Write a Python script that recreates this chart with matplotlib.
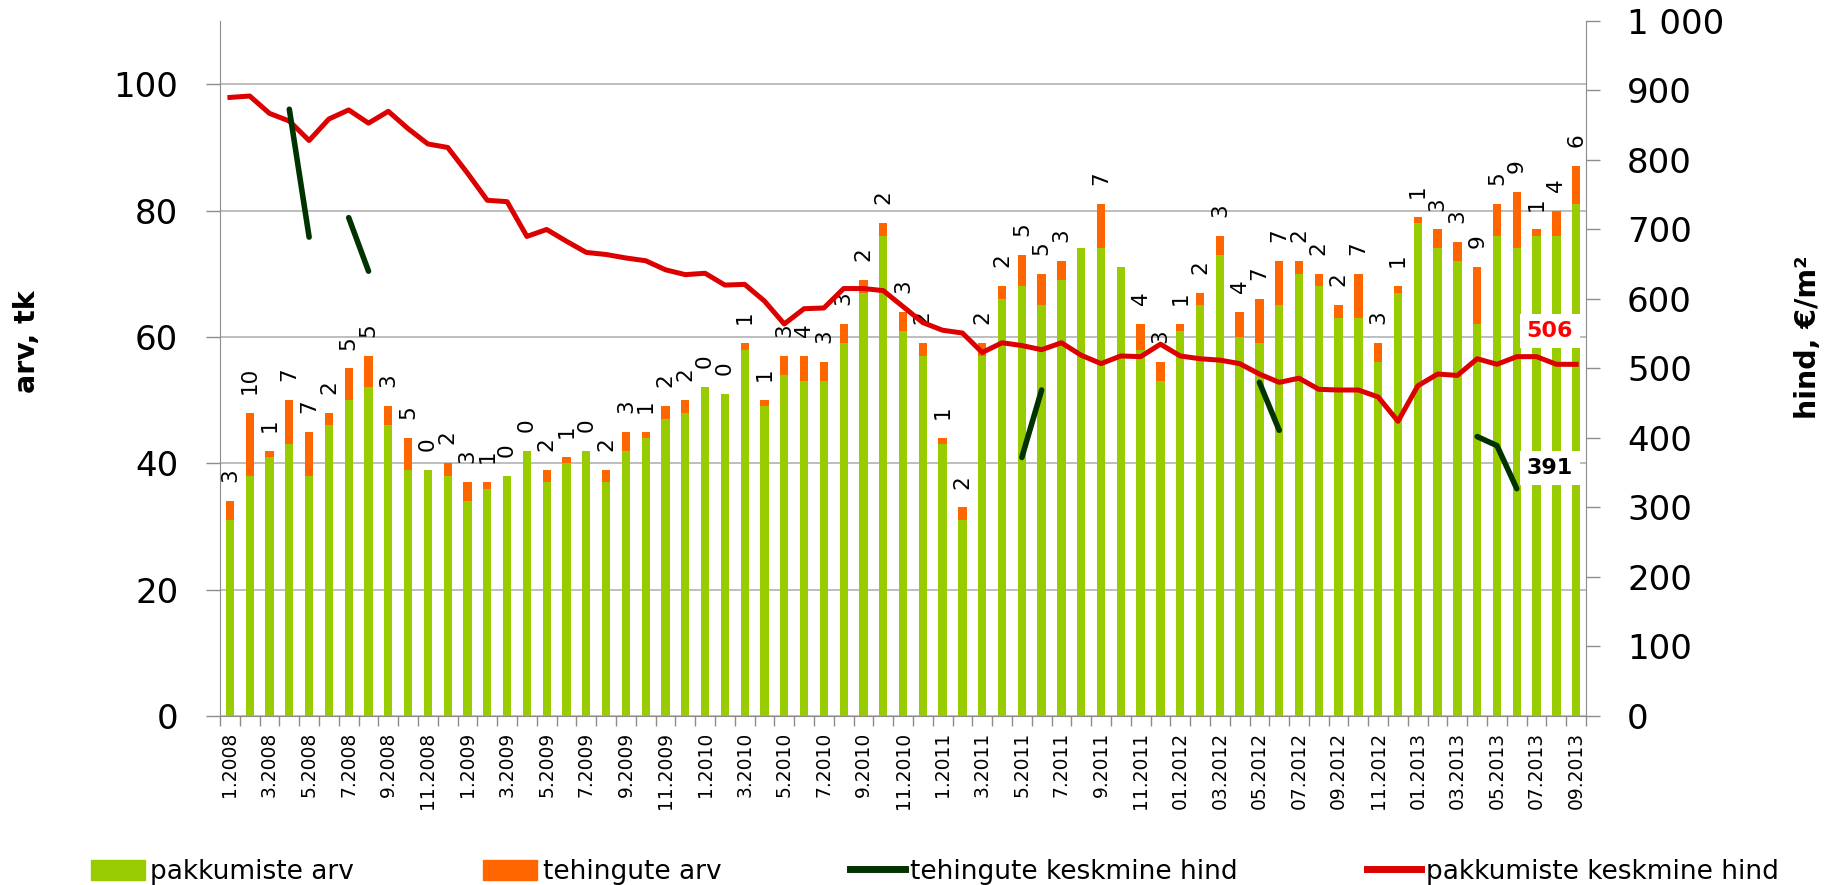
import matplotlib

matplotlib.use("Agg")
import matplotlib.pyplot as plt  # noqa: E402
import numpy as np  # noqa: E402
from matplotlib.lines import Line2D  # noqa: E402
from matplotlib.patches import Patch  # noqa: E402
from matplotlib.ticker import FuncFormatter  # noqa: E402

# months 1.2008 ... 09.2013 (two-digit month from 2012 on, as in the source)
months = [f"{m}.{y}" if y < 2012 else f"{m:02d}.{y}"
          for y in range(2008, 2014) for m in range(1, 13)][:69]
tick_labels = months[::2]

pakkumiste_arv = [31, 38, 41, 43, 38, 46, 50, 52, 46, 39, 39, 38,
                  34, 36, 38, 42, 37, 40, 42, 37, 42, 44, 47, 48,
                  52, 51, 58, 49, 54, 53, 53, 59, 67, 76, 61, 57,
                  43, 31, 57, 66, 68, 65, 69, 74, 74, 71, 58, 53,
                  61, 65, 73, 60, 59, 65, 70, 68, 63, 63, 56, 67,
                  78, 74, 72, 62, 76, 74, 76, 76, 81]
tehingute_arv = [3, 10, 1, 7, 7, 2, 5, 5, 3, 5, 0, 2,
                 3, 1, 0, 0, 2, 1, 0, 2, 3, 1, 2, 2,
                 0, 0, 1, 1, 3, 4, 3, 3, 2, 2, 3, 2,
                 1, 2, 2, 2, 5, 5, 3, None, 7, None, 4, 3,
                 1, 2, 3, 4, 7, 7, 2, 2, 2, 7, 3, 1,
                 1, 3, 3, 9, 5, 9, 1, 4, 6]
pakkumiste_hind = [890, 892, 867, 856, 828, 859, 872, 853, 870, 845, 823, 818,
                   781, 742, 740, 690, 700, 683, 667, 664, 659, 655, 642, 635,
                   637, 620, 621, 597, 564, 586, 587, 615, 615, 612, 589, 566,
                   555, 551, 523, 537, 533, 527, 537, 519, 507, 518, 517, 535,
                   518, 514, 512, 507, 492, 480, 486, 470, 469, 469, 459, 424,
                   475, 492, 490, 514, 506, 517, 517, 506, 506]
tehingute_hind = [None, None, None, 873, 689, None, 717, 640, None, None, None, None,
                  None, None, None, None, None, None, None, None, None, None, None, None,
                  None, None, None, None, None, None, None, None, None, None, None, None,
                  None, None, None, None, 372, 469, None, None, None, None, None, None,
                  None, None, None, None, 480, 411, None, None, None, None, None, None,
                  None, None, None, 402, 389, 327, None, None, None]
last_offer_price = "506"
last_deal_price = "391"

GREEN = "#99CC00"
ORANGE = "#FF6600"
DARK = "#003300"
RED = "#DC0000"
GRAY = "#8C8C8C"

x = np.arange(len(months))
deals = np.array([0 if v is None else v for v in tehingute_arv])
offers = np.array(pakkumiste_arv)
deal_price = np.array([np.nan if v is None else v for v in tehingute_hind], dtype=float)

fig = plt.figure(figsize=(18.49, 8.85), dpi=100)
ax = fig.add_axes([0.119, 0.191, 0.7388, 0.7853])
ax2 = ax.twinx()

ax.bar(x, offers, width=0.42, color=GREEN, zorder=2)
ax.bar(x, deals, width=0.42, bottom=offers, color=ORANGE, zorder=2)
for i, d in enumerate(tehingute_arv):
    if d is None:
        continue
    ax.text(i, offers[i] + deals[i] + 3, str(d), rotation=90, ha="center",
            va="bottom", fontsize=15.5, zorder=3)

ax.set_xlim(-0.5, len(months) - 0.5)
ax.set_ylim(0, 110)
ax.set_yticks(range(0, 101, 20))
ax.set_xticks(x[::2])
ax.set_xticklabels(tick_labels, rotation=90, fontsize=13.5)
ax.set_xticks(np.arange(-0.5, len(months), 1), minor=True)
ax.tick_params(axis="x", which="major", length=0, pad=11.5)
ax.tick_params(axis="x", which="minor", length=7, color=GRAY, width=1)
ax.tick_params(axis="y", length=10, color=GRAY, width=1, labelsize=24.5, pad=20)
ax.grid(axis="y", color="#B3B3B3", lw=1.2, zorder=0)
ax.set_axisbelow(True)
for side in ("top", "right"):
    ax.spines[side].set_visible(False)
for side in ("left", "bottom"):
    ax.spines[side].set_color(GRAY)

ax2.plot(x, pakkumiste_hind, color=RED, lw=3.6, zorder=4)
ax2.plot(x, deal_price, color=DARK, lw=4, solid_capstyle="round", zorder=4)
ax2.set_ylim(0, 1000)
ax2.set_yticks(range(0, 1001, 100))
ax2.yaxis.set_major_formatter(FuncFormatter(lambda v, _: f"{int(v):,}".replace(",", " ")))
ax2.tick_params(axis="y", length=10, color=GRAY, width=1, labelsize=24.5, pad=19.5)
for side in ("top", "left", "bottom"):
    ax2.spines[side].set_visible(False)
ax2.spines["right"].set_color(GRAY)

box = dict(boxstyle="square,pad=0.3", fc="white", ec="none")
ax2.text(66.67, 554, last_offer_price, color="#FF0000", fontsize=16, fontweight="bold",
         ha="center", va="center", bbox=box, zorder=10)
ax2.text(66.67, 357, last_deal_price, color="black", fontsize=16, fontweight="bold",
         ha="center", va="center", bbox=box, zorder=10)

fig.text(0.0146, 0.614, "arv, tk", rotation=90, ha="center", va="center",
         fontsize=20.5, fontweight="bold")
fig.text(0.978, 0.619, "hind, €/m²", rotation=90, ha="center", va="center",
         fontsize=20.5, fontweight="bold")

handles = [Patch(color=GREEN), Patch(color=ORANGE),
           Line2D([], [], color=DARK, lw=5), Line2D([], [], color=RED, lw=5)]
names = ["pakkumiste arv", "tehingute arv", "tehingute keskmine hind",
         "pakkumiste keskmine hind"]
fig.legend(handles, names, ncol=4, loc="center left", bbox_to_anchor=(0.049, 0.0147),
           frameon=False, fontsize=19, handlelength=2.05, handleheight=0.8,
           handletextpad=0.2, columnspacing=4.9, borderpad=0, borderaxespad=0)

fig.savefig("out.png", dpi=100)
